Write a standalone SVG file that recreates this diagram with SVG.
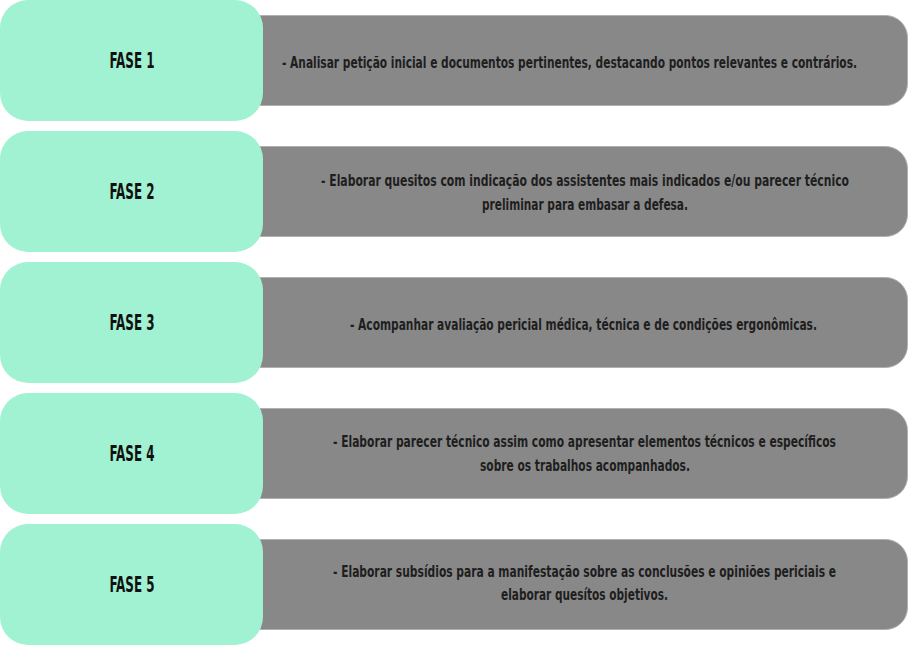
<svg xmlns="http://www.w3.org/2000/svg" width="908" height="645" viewBox="0 0 908 645">
<style>
.bar{fill:#888888;stroke:#b0b0b0;stroke-width:1}
.fase{fill:#a1f2d3}
.ft{font-family:"DejaVu Sans Condensed","DejaVu Sans",sans-serif;font-size:21px;font-weight:bold;fill:#111111;text-anchor:middle}
.bt{font-family:"DejaVu Sans Condensed","DejaVu Sans",sans-serif;font-size:16px;font-weight:bold;fill:#1e1e1e}
</style>
<rect width="908" height="645" fill="#ffffff"/>
<g id="fase1">
<rect class="bar" x="240" y="15.5" width="667.5" height="90" rx="22" ry="22"/>
<rect class="fase" x="0" y="0" width="263" height="121" rx="28" ry="28"/>
<text class="ft" x="132" y="68" textLength="45" lengthAdjust="spacingAndGlyphs">FASE 1</text>
<text class="bt" x="282" y="68" textLength="575" lengthAdjust="spacingAndGlyphs">- Analisar petição inicial e documentos pertinentes, destacando pontos relevantes e contrários.</text>
</g>
<g id="fase2">
<rect class="bar" x="240" y="146.5" width="667.5" height="90" rx="22" ry="22"/>
<rect class="fase" x="0" y="131" width="263" height="121" rx="28" ry="28"/>
<text class="ft" x="132" y="199" textLength="45" lengthAdjust="spacingAndGlyphs">FASE 2</text>
<text class="bt" x="321" y="186" textLength="528" lengthAdjust="spacingAndGlyphs">- Elaborar quesitos com indicação dos assistentes mais indicados e/ou parecer técnico</text>
<text class="bt" x="482" y="210" textLength="206" lengthAdjust="spacingAndGlyphs">preliminar para embasar a defesa.</text>
</g>
<g id="fase3">
<rect class="bar" x="240" y="277.5" width="667.5" height="90" rx="22" ry="22"/>
<rect class="fase" x="0" y="262" width="263" height="121" rx="28" ry="28"/>
<text class="ft" x="132" y="330" textLength="45" lengthAdjust="spacingAndGlyphs">FASE 3</text>
<text class="bt" x="350" y="330" textLength="467" lengthAdjust="spacingAndGlyphs">- Acompanhar avaliação pericial médica, técnica e de condições ergonômicas.</text>
</g>
<g id="fase4">
<rect class="bar" x="240" y="408.5" width="667.5" height="90" rx="22" ry="22"/>
<rect class="fase" x="0" y="393" width="263" height="121" rx="28" ry="28"/>
<text class="ft" x="132" y="461" textLength="45" lengthAdjust="spacingAndGlyphs">FASE 4</text>
<text class="bt" x="333" y="447" textLength="503" lengthAdjust="spacingAndGlyphs">- Elaborar parecer técnico assim como apresentar elementos técnicos e específicos</text>
<text class="bt" x="480" y="471" textLength="210" lengthAdjust="spacingAndGlyphs">sobre os trabalhos acompanhados.</text>
</g>
<g id="fase5">
<rect class="bar" x="240" y="539.5" width="667.5" height="90" rx="22" ry="22"/>
<rect class="fase" x="0" y="524" width="263" height="121" rx="28" ry="28"/>
<text class="ft" x="132" y="592" textLength="45" lengthAdjust="spacingAndGlyphs">FASE 5</text>
<text class="bt" x="333" y="577" textLength="503" lengthAdjust="spacingAndGlyphs">- Elaborar subsídios para a manifestação sobre as conclusões e opiniões periciais e</text>
<text class="bt" x="501" y="600" textLength="167" lengthAdjust="spacingAndGlyphs">elaborar quesítos objetivos.</text>
</g>
</svg>
